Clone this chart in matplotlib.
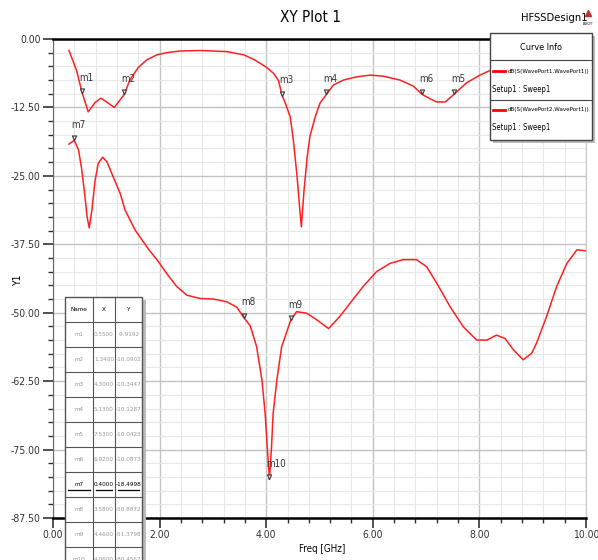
import matplotlib
matplotlib.use("Agg")
import matplotlib.pyplot as plt
from matplotlib import font_manager
from matplotlib.path import Path
from matplotlib.patches import Rectangle
from matplotlib.ticker import MultipleLocator, FormatStrFormatter

# HFSS uses a narrow font, try the condensed DejaVu face if it is there
fp = font_manager.FontProperties(family='DejaVu Sans', stretch='condensed')
if 'Condensed' in font_manager.findfont(fp, fallback_to_default=True):
    plt.rcParams['font.family'] = ['DejaVu Sans']
    plt.rcParams['font.stretch'] = 'condensed'
    k = 1.0
else:
    plt.rcParams['font.family'] = ['Liberation Sans', 'DejaVu Sans']
    k = 0.92

# S11 curve, dB(S(WavePort1,WavePort1))
s11_freq = [0.30, 0.44, 0.55, 0.66, 0.79, 0.90, 1.02, 1.15, 1.34, 1.44, 1.60, 1.76,
            1.95, 2.13, 2.38, 2.76, 3.26, 3.58, 3.76, 3.89, 4.01, 4.14, 4.23, 4.30,
            4.35, 4.45, 4.51, 4.58, 4.62, 4.66, 4.71, 4.77, 4.82, 4.92, 5.01, 5.13,
            5.26, 5.45, 5.70, 5.96, 6.20, 6.51, 6.76, 6.92, 7.07, 7.20, 7.36, 7.53,
            7.76, 8.01, 8.21, 8.80, 9.40, 10.00]
s11_db = [-2.1, -5.7, -9.92, -13.3, -11.6, -10.8, -11.6, -12.5, -10.09, -7.5, -5.2, -3.8,
          -2.9, -2.5, -2.2, -2.1, -2.3, -2.9, -3.7, -4.45, -5.2, -6.3, -7.6, -10.34,
          -11.5, -14.2, -18.5, -25.2, -30.0, -34.3, -27.6, -21.5, -17.8, -14.2, -11.7, -10.13,
          -8.4, -7.5, -6.9, -6.6, -6.8, -7.5, -8.6, -10.09, -10.9, -11.5, -11.5, -10.04,
          -8.0, -6.6, -5.7, -3.6, -2.6, -2.0]

# S21 curve, dB(S(WavePort2,WavePort1))
s21_freq = [0.30, 0.40, 0.48, 0.54, 0.60, 0.64, 0.68, 0.73, 0.79, 0.85, 0.93, 1.01,
            1.13, 1.26, 1.35, 1.54, 1.80, 1.98, 2.13, 2.32, 2.51, 2.76, 3.01, 3.26,
            3.45, 3.58, 3.70, 3.82, 3.92, 3.98, 4.02, 4.06, 4.10, 4.13, 4.20, 4.29,
            4.46, 4.57, 4.76, 4.95, 5.17, 5.38, 5.57, 5.82, 6.07, 6.32, 6.57, 6.82,
            7.01, 7.20, 7.45, 7.70, 7.95, 8.14, 8.32, 8.48, 8.64, 8.82, 8.98, 9.07,
            9.26, 9.45, 9.64, 9.83, 10.00]
s21_db = [-19.2, -18.50, -20.3, -23.9, -28.8, -32.5, -34.5, -31.2, -25.8, -22.7, -21.6, -22.4,
          -25.2, -28.2, -31.2, -34.9, -38.5, -40.7, -42.8, -45.2, -46.8, -47.4, -47.5, -48.0,
          -49.0, -50.89, -52.4, -56.2, -62.3, -68.4, -74.5, -80.46, -74.5, -68.4, -62.3, -56.2,
          -51.38, -49.8, -50.1, -51.3, -52.9, -50.7, -48.3, -45.2, -42.5, -41.0, -40.3, -40.3,
          -41.6, -44.6, -48.9, -52.6, -55.0, -55.0, -54.1, -54.7, -56.8, -58.6, -57.4, -55.6,
          -50.7, -45.2, -41.0, -38.5, -38.7]

curve_names = ['dB(S(WavePort1,WavePort1))', 'dB(S(WavePort2,WavePort1))']

# markers
mk_names = ['m1', 'm2', 'm3', 'm4', 'm5', 'm6', 'm7', 'm8', 'm9', 'm10']
mk_x = [0.55, 1.34, 4.30, 5.13, 7.53, 6.92, 0.40, 3.58, 4.46, 4.06]
mk_y = [-9.9192, -10.0902, -10.3447, -10.1287, -10.0423, -10.0873,
        -18.4998, -50.8872, -51.3798, -80.4567]
mk_x_txt = ['0.5500', '1.3400', '4.3000', '5.1300', '7.5300', '6.9200',
            '0.4000', '3.5800', '4.4600', '4.0600']
mk_y_txt = ['-9.9192', '-10.0902', '-10.3447', '-10.1287', '-10.0423', '-10.0873',
            '-18.4998', '-50.8872', '-51.3798', '-80.4567']

W, H = 598, 560
fig = plt.figure(figsize=(W / 100, H / 100), dpi=100)
ax = fig.add_axes([53 / W, 1 - 518 / H, (586 - 53) / W, (518 - 39) / H])

red = '#ff2020'
ax.plot(s11_freq, s11_db, color=red, lw=1.1)
ax.plot(s21_freq, s21_db, color=red, lw=1.1)

ax.set_xlim(0, 10)
ax.set_ylim(-87.5, 0)
ax.xaxis.set_major_locator(MultipleLocator(2))
ax.xaxis.set_minor_locator(MultipleLocator(0.4))
ax.yaxis.set_major_locator(MultipleLocator(12.5))
ax.yaxis.set_minor_locator(MultipleLocator(2.5))
ax.xaxis.set_major_formatter(FormatStrFormatter('%.2f'))
ax.yaxis.set_major_formatter(FormatStrFormatter('%.2f'))
ax.grid(which='major', color='#c4c4c4', lw=1.0)
ax.grid(which='minor', color='#e8e8e8', lw=0.8)
ax.set_axisbelow(True)
ax.tick_params(which='major', length=7, width=1.2, color='#333333', labelsize=7.5 * k,
               labelcolor='#333333', pad=2)
ax.tick_params(which='minor', length=3.5, width=1.0, color='#333333')
ax.spines['top'].set_linewidth(1.8)
ax.spines['bottom'].set_linewidth(1.8)
ax.spines['left'].set_color('#666666')
ax.spines['right'].set_color('#c8c8c8')

# marker triangles with tip on the curve
tri = Path([(0, 0), (-0.5, 1.1), (0.5, 1.1), (0, 0)],
           [Path.MOVETO, Path.LINETO, Path.LINETO, Path.CLOSEPOLY])
for n, x, y in zip(mk_names, mk_x, mk_y):
    ax.plot(x, y, marker=tri, ms=6.5, mfc='white', mec='#333333', mew=0.8, zorder=5)
    ax.annotate(n, xy=(x, y), xytext=(-2, 7.5), textcoords='offset points',
                fontsize=7 * k, color='#333333', ha='left', va='bottom')

fig.text(311 / W, 1 - 18 / H, 'XY Plot 1', ha='center', va='center', fontsize=11 * k)
fig.text(554 / W, 1 - 18 / H, 'HFSSDesign1', ha='center', va='center', fontsize=8 * k)
fig.text(18 / W, 1 - 280 / H, 'Y1', ha='center', va='center', rotation=90, fontsize=7.5 * k)
fig.text(322 / W, 1 - 549 / H, 'Freq [GHz]', ha='center', va='center', fontsize=7 * k)

# overlay in pixel coordinates for legend box and marker table
ov = fig.add_axes([0, 0, 1, 1], zorder=10)
ov.set_xlim(0, W)
ov.set_ylim(H, 0)
ov.axis('off')

# small logo
ov.plot(588, 13, marker='^', ms=5, color='#c03030')
ov.text(588, 24, 'ANSOFT', fontsize=2.2, ha='center', va='center')

# Curve Info box
ov.add_patch(Rectangle((493, 36), 102, 107, fc='#bbbbbb', ec='none'))
ov.add_patch(Rectangle((490, 33), 102, 107, fc='white', ec='#444444', lw=1))
ov.plot([490, 592], [60, 60], color='#444444', lw=0.8)
ov.plot([490, 592], [100, 100], color='#444444', lw=0.8)
ov.text(541, 47, 'Curve Info', ha='center', va='center', fontsize=6.5 * k)
for i, name in enumerate(curve_names):
    y0 = 71 + i * 39
    ov.plot([493, 505], [y0, y0], color='red', lw=2)
    ov.text(508, y0, name, ha='left', va='center', fontsize=4.5 * k)
    ov.text(492, y0 + 18, 'Setup1 : Sweep1', ha='left', va='center', fontsize=5.5 * k)

# marker table
cols = [65, 93, 115, 142]
row_h = 25
top = 297
rows = [['Name', 'X', 'Y']] + [[n, a, b] for n, a, b in zip(mk_names, mk_x_txt, mk_y_txt)]
ov.add_patch(Rectangle((142, top + 3), 4, row_h * len(rows), fc='#bbbbbb', ec='none'))
ov.add_patch(Rectangle((cols[0], top), cols[-1] - cols[0], row_h * len(rows),
                       fc='white', ec='#555555', lw=1))
for r, row in enumerate(rows):
    yc = top + r * row_h + row_h / 2
    if r > 0:
        ov.plot([cols[0], cols[-1]], [top + r * row_h] * 2, color='#555555', lw=0.8)
    for c, txt in enumerate(row):
        xc = (cols[c] + cols[c + 1]) / 2
        col = '#999999'
        if r == 0 or row[0] == 'm7':
            col = 'black'
        ov.text(xc, yc, txt, ha='center', va='center', fontsize=4.6 * k, color=col)
        if row[0] == 'm7':
            ov.plot([cols[c] + 3, cols[c + 1] - 3], [yc + 5, yc + 5], color='black', lw=0.9)
for xc in cols[1:-1]:
    ov.plot([xc, xc], [top, top + row_h * len(rows)], color='#555555', lw=0.8)

fig.savefig('out.png', dpi=100)
